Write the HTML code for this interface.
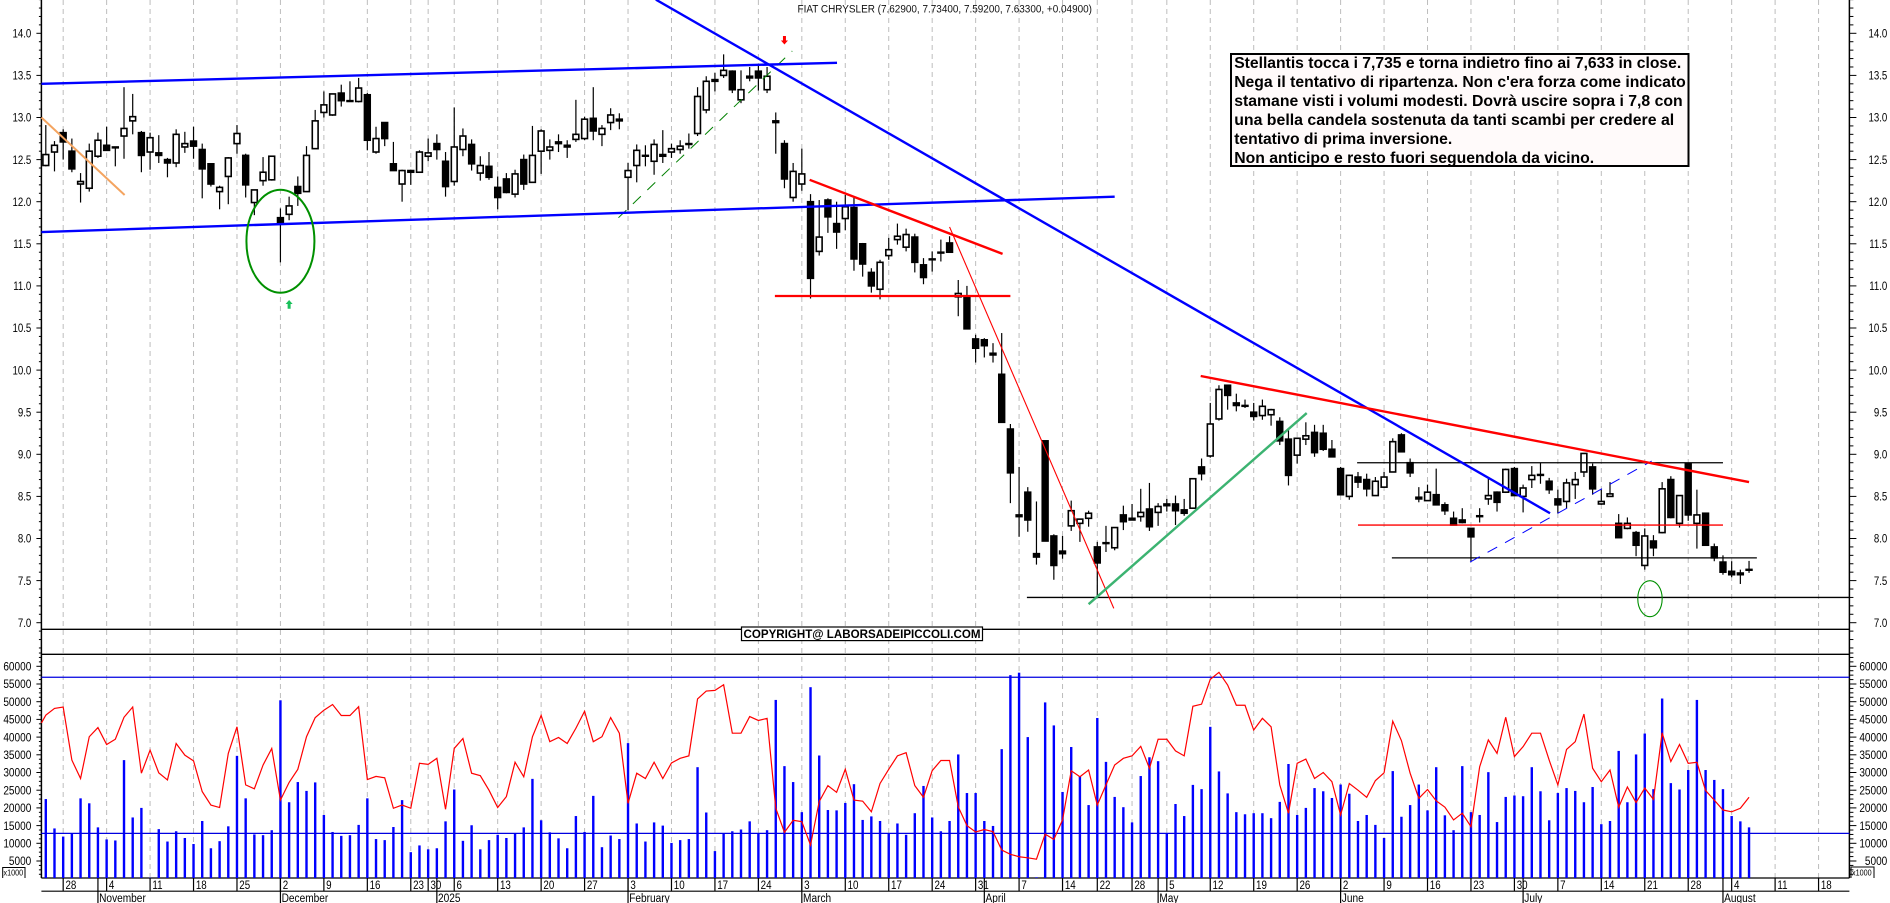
<!DOCTYPE html>
<html lang="it">
<head>
<meta charset="utf-8">
<title>Fiat Chrysler chart</title>
<style>
html,body{margin:0;padding:0;background:#fff;width:1890px;height:903px;overflow:hidden}
svg{display:block;font-family:"Liberation Sans",Arial,sans-serif}
</style>
</head>
<body>
<svg id="chart" xmlns="http://www.w3.org/2000/svg" width="1890" height="903" viewBox="0 0 1890 903"></svg>
<script>
const opens=[12.43,12.59,12.82,12.60,12.21,12.16,12.54,12.67,12.65,12.78,12.96,12.82,12.59,12.58,12.50,12.46,12.65,12.72,12.62,12.45,12.12,12.30,12.69,12.55,11.99,12.25,12.26,11.81,11.85,12.18,12.12,12.63,13.06,13.03,13.29,13.20,13.19,13.27,12.59,12.94,12.45,12.21,12.37,12.35,12.54,12.69,12.48,12.24,12.62,12.68,12.34,12.42,12.17,12.27,12.09,12.50,12.23,12.60,12.61,12.71,12.67,12.74,12.75,12.99,12.80,12.94,12.98,12.29,12.43,12.55,12.48,12.56,12.59,12.62,12.69,12.81,13.09,13.45,13.50,13.55,13.21,13.47,13.55,13.33,12.96,12.69,12.05,12.21,12.00,11.41,12.02,11.74,11.80,11.93,11.50,11.16,10.96,11.36,11.55,11.46,11.58,11.25,11.32,11.40,11.51,10.87,10.87,10.37,10.36,10.18,9.95,9.30,8.26,8.55,7.82,9.16,8.03,7.85,8.15,8.18,8.24,7.90,7.95,7.89,8.28,8.24,8.26,8.35,8.31,8.41,8.41,8.34,8.36,8.85,8.98,9.42,9.82,9.61,9.58,9.50,9.46,9.47,9.39,9.18,8.99,9.18,9.26,9.25,9.06,8.83,8.50,8.73,8.70,8.51,8.61,8.79,9.23,8.90,8.49,8.45,8.52,8.40,8.24,8.22,8.12,8.27,8.47,8.55,8.55,8.83,8.50,8.70,8.76,8.68,8.47,8.44,8.64,8.79,8.85,8.41,8.50,8.18,8.12,8.07,7.68,7.97,8.07,8.70,8.18,8.89,8.18,8.30,7.90,7.72,7.61,7.59,7.629];
const closes=[12.56,12.67,12.71,12.39,12.24,12.60,12.73,12.61,12.64,12.87,13.01,12.55,12.76,12.55,12.46,12.80,12.69,12.66,12.39,12.21,12.17,12.52,12.81,12.20,12.14,12.35,12.54,11.74,11.95,12.10,12.55,12.96,13.15,13.28,13.20,13.20,13.35,12.73,12.75,12.75,12.37,12.37,12.35,12.59,12.58,12.62,12.18,12.65,12.78,12.45,12.43,12.29,12.05,12.11,12.33,12.21,12.55,12.84,12.65,12.69,12.65,12.80,12.98,12.84,12.87,13.03,12.96,12.37,12.61,12.55,12.68,12.54,12.63,12.66,12.68,13.25,13.43,13.43,13.56,13.33,13.33,13.49,13.47,13.49,12.94,12.27,12.36,12.33,11.09,11.58,11.82,11.64,11.94,11.32,11.26,11.00,11.28,11.43,11.59,11.61,11.28,11.10,11.32,11.40,11.40,10.91,10.49,10.26,10.29,10.20,9.38,8.78,8.28,8.22,7.78,7.97,7.68,7.82,8.33,8.23,8.30,7.71,7.94,8.13,8.20,8.22,8.31,8.14,8.38,8.39,8.33,8.30,8.71,8.77,9.36,9.77,9.70,9.58,9.58,9.45,9.57,9.53,9.16,8.75,9.19,9.22,9.02,9.06,8.97,8.52,8.75,8.67,8.59,8.68,8.73,9.15,9.03,8.78,8.47,8.55,8.40,8.33,8.16,8.19,8.02,8.26,8.51,8.43,8.82,8.51,8.60,8.75,8.75,8.58,8.40,8.66,8.70,9.01,8.59,8.44,8.53,8.01,8.18,7.92,8.03,7.89,8.59,8.25,8.51,8.28,8.28,7.92,7.77,7.60,7.57,7.57,7.633];
const highs=[12.91,12.72,12.86,12.75,12.34,12.69,12.82,12.89,12.65,13.36,13.28,12.84,12.82,12.79,12.52,12.86,12.83,12.89,12.69,12.45,12.19,12.53,12.91,12.57,12.14,12.53,12.54,11.92,12.06,12.30,12.66,13.09,13.31,13.28,13.39,13.43,13.47,13.29,12.89,12.94,12.71,12.38,12.38,12.61,12.75,12.80,12.59,13.12,12.87,12.74,12.54,12.59,12.30,12.34,12.38,12.56,12.90,12.86,12.74,12.80,12.73,13.21,13.01,13.36,12.91,13.11,13.05,12.46,12.68,12.67,12.74,12.85,12.69,12.73,12.81,13.36,13.49,13.53,13.75,13.56,13.56,13.60,13.62,13.60,13.06,12.73,12.46,12.63,12.09,12.02,12.04,12.00,12.08,12.06,11.51,11.21,11.31,11.57,11.74,11.68,11.62,11.33,11.41,11.55,11.59,11.07,11.00,10.42,10.38,10.32,10.44,9.36,8.85,8.61,8.44,9.16,8.05,8.03,8.45,8.23,8.33,7.96,8.15,8.13,8.39,8.41,8.59,8.66,8.42,8.47,8.51,8.47,8.71,8.95,9.61,9.82,9.82,9.72,9.65,9.61,9.65,9.54,9.44,9.30,9.20,9.38,9.35,9.35,9.17,8.85,8.76,8.79,8.77,8.73,8.79,9.19,9.25,8.95,8.61,8.64,8.83,8.43,8.32,8.36,8.12,8.36,8.71,8.56,8.83,8.85,8.64,8.86,8.90,8.72,8.58,8.71,8.79,9.01,8.89,8.58,8.67,8.29,8.25,8.09,8.12,8.04,8.67,8.74,8.51,8.90,8.58,8.30,7.94,7.80,7.73,7.63,7.734];
const lows=[12.42,12.36,12.50,12.35,11.99,12.12,12.52,12.61,12.42,12.51,12.80,12.35,12.38,12.46,12.29,12.41,12.58,12.51,12.04,12.18,11.91,11.97,12.57,12.05,11.84,12.19,12.25,11.28,11.78,11.95,12.12,12.63,13.00,13.02,13.13,13.20,13.18,12.61,12.57,12.66,12.37,12.00,12.20,12.35,12.48,12.50,12.06,12.19,12.54,12.37,12.25,12.26,11.91,12.10,12.05,12.14,12.23,12.33,12.50,12.59,12.52,12.71,12.73,12.73,12.66,12.85,12.86,11.90,12.23,12.42,12.32,12.46,12.52,12.57,12.63,12.78,13.05,13.31,13.47,13.29,13.17,13.43,13.32,13.29,12.57,12.16,12.00,12.13,10.85,11.36,11.63,11.44,11.66,11.18,11.11,10.92,10.84,11.31,11.49,11.41,11.16,11.02,11.17,11.29,11.40,10.64,10.49,10.09,10.15,10.09,9.38,8.42,8.02,8.08,7.69,7.97,7.51,7.76,8.09,7.96,8.14,7.30,7.84,7.86,8.10,8.22,8.20,8.09,8.15,8.32,8.16,8.27,8.36,8.69,8.96,9.40,9.53,9.51,9.55,9.40,9.41,9.34,9.11,8.63,8.89,9.11,8.97,9.04,8.97,8.52,8.46,8.60,8.50,8.51,8.60,8.79,9.03,8.73,8.43,8.45,8.40,8.28,8.16,8.18,7.73,8.19,8.40,8.32,8.54,8.51,8.31,8.60,8.65,8.53,8.30,8.36,8.47,8.73,8.52,8.40,8.50,8.01,8.11,7.79,7.63,7.79,8.06,8.24,8.13,8.21,7.88,7.92,7.73,7.57,7.54,7.46,7.592];
const volumes=[22.5,14.2,11.9,12.7,22.7,21.3,14.5,11.1,10.8,33.5,17.3,20,0.3,14,10.5,13.4,11.5,9.8,16.3,8.6,10.6,14.8,34.7,22.7,12.5,12.3,13.7,50.4,21.6,27.3,24.8,27.2,18,13.2,12.1,12.3,15.2,22.7,11.2,10.9,14.6,22.2,7.5,9.4,8.3,8.6,16.2,25.2,10.7,15.1,8.3,10.9,12.4,11.5,12.7,14.5,28.2,16.5,13.1,11.4,8.6,17.7,13.2,23.4,8.9,12.2,11.2,38.3,15.6,10.5,15.9,15,10.1,10.9,11.2,31.5,18.7,7.8,12.7,13.4,13.9,16.2,12.7,13.7,50.5,31.8,27.3,18.8,54.1,34.8,19.4,19.3,21.4,26.7,16.6,17.6,16.3,12.7,15.6,12.4,18.5,26.2,17.3,13.4,16.3,35.1,24.2,24.2,16.3,14.9,36.6,57.5,58.2,40,0.4,49.8,43.3,24.5,37.2,29,20.8,45.4,33,23.1,20.2,15.9,29,34.3,33.2,12.7,21.1,17.7,26.5,25.3,42.9,30.3,24.1,18.8,18.2,18.5,18.5,17.1,21.7,32.4,18,20,25.6,24.7,22.8,26.6,24,16.3,18,15.2,11.5,30.4,17.5,20.8,26.6,19.3,31.5,17.9,13.7,31.8,18.8,18,30.1,16,23.1,23.5,23.3,31.5,24.7,16.5,24.2,25.6,24.8,21.6,25.9,15.4,16.3,36.1,21.6,35.1,41,25.3,50.9,27,25.2,30.7,50.5,30.7,27.9,25.3,17.7,16.2,14.5];
const momentum=[46.2,48.1,48.5,33.5,28.3,40.1,42.7,37.9,39.4,45.6,48.5,29.8,36.3,29.9,27.9,38.2,34.9,33.3,24.6,20.8,20.1,35.4,42.9,26.5,25.4,32.1,36.8,22.2,27.2,30.9,40.1,45.5,47.6,49.2,46.1,46.1,48.6,28,28.9,28.5,19.9,20.8,19.9,32.6,32.3,34,19.6,36.8,39.6,29.8,29.1,25,20.1,23.2,32.9,28.8,40.1,46.1,38.7,39.9,38.2,42.5,47.3,38.7,40.1,45.5,41.1,21.3,29.8,28.3,32.9,28.3,32.7,34,34.7,50.8,53,53.2,54.8,41.1,41.1,45.8,44.7,45.3,19.9,13.1,16.5,16.1,9.5,21.8,26.3,24.4,30.9,22.2,21.9,18.9,26.9,30.9,34.7,35.6,26.3,23,30.5,33.4,33.4,20.3,15,13.2,13.9,13.3,8.1,6.9,6.2,5.9,5.5,12.6,11.1,16.6,30.5,28.8,30.7,20.8,26.5,32.1,34,34.7,37.4,31.2,39.4,39.4,36.1,34.7,48.7,49.3,56.3,58.3,54.7,49,49,42,45.3,42.9,26.5,18.5,32.6,33.8,28.3,30,27.4,18,26.9,25,23,27.7,29.9,44.5,39,29.8,22.7,25.2,22,20.2,16.6,18.5,14.7,31.6,39.2,35.4,45.6,34.5,37.3,41.1,41.1,33.5,26.5,36.5,38.7,46.5,31.2,27.4,30.7,20.2,25.9,21.5,25.6,22.4,41.2,33.1,37.9,32.6,32.9,24.9,22.2,19.4,18.9,19.9,23];
const momentumLead=44;
const volumeLevels=[56.9,12.8];
const priceTickLabels=["14.0","13.5","13.0","12.5","12.0","11.5","11.0","10.5","10.0","9.5","9.0","8.5","8.0","7.5","7.0"];
const volumeTickLabels=["60000","55000","50000","45000","40000","35000","30000","25000","20000","15000","10000","5000"];
const weekBars=[2,7,12,17,22,27,32,37,42,44,47,52,57,62,67,72,77,82,87,92,97,102,107,112,117,121,125,129,134,139,144,149,154,159,164,169,174,179,184,189,194,199,204];
const weekLabels=["28","4","11","18","25","2","9","16","23","30","6","13","20","27","3","10","17","24","3","10","17","24","31","7","14","22","28","5","12","19","26","2","9","16","23","30","7","14","21","28","4","11","18"];
const monthBars=[6,27,45,67,87,108,128,149,170,193];
const monthLabels=["November","December","2025","February","March","April","May","June","July","August"];
const blueChannelTop=[-0.5,13.40,91.05,13.65];
const blueChannelBottom=[-0.5,11.64,123,12.06];
const blueDowntrend=[70.2,14.40,173.1,8.30];
const redResistanceA=[87.9,12.26,110.1,11.38];
const redSupport=[83.9,10.88,111,10.88];
const redThinDecline=[104,11.70,122.9,7.17];
const greenUptrend=[120,7.22,145.1,9.49];
const redResistanceB=[132.9,9.93,196,8.67];
const blackLevelLow=[112.9,7.30,207.5,7.30];
const blackLevelHigh=[150.9,8.90,193,8.90];
const redLevelMid=[151,8.16,193,8.16];
const blackLevelMid=[154.9,7.77,196.9,7.77];
const blueDashedTrend=[163.9,7.72,184.8,8.92];
const greenDashedTrend=[65.9,11.81,85.9,13.79];
const orangeDecline=[-0.5,13.00,9.07,12.08];
const noteLines=["Stellantis tocca i 7,735 e torna indietro fino ai 7,633 in close.","Nega il tentativo di ripartenza. Non c'era forza come indicato","stamane visti i volumi modesti. Dovrà uscire sopra i 7,8 con","una bella candela sostenuta da tanti scambi per credere al","tentativo di prima inversione.","Non anticipo e resto fuori seguendola da vicino."];

const NS="http://www.w3.org/2000/svg";
const svg=document.getElementById("chart");
const AXL=41.4,AXR=1849.4,BOTTOM=878;
function xScale(i){return 45.8+8.69*i;}
function priceY(p){return 33.3+(14-p)*84.2;}
function volY(v){return 878.7-3.54*v;}
function mk(tag,attrs,parent){
  const el=document.createElementNS(NS,tag);
  for(const k in attrs)el.setAttribute(k,attrs[k]);
  (parent||svg).appendChild(el);
  return el;
}
function seg(a,b,c,d,stroke,w,extra,parent){
  return mk("line",Object.assign({x1:a,y1:b,x2:c,y2:d,stroke:stroke,"stroke-width":w},extra||{}),parent);
}
function label(x,y,t,size,anchor,parent,extra){
  const el=mk("text",Object.assign({x:x,y:y,"font-size":size,"text-anchor":anchor||"start",fill:"#000"},extra||{}),parent);
  el.textContent=t;
  return el;
}
function squeeze(el,k){
  el.setAttribute("textLength",el.getComputedTextLength()*k);
  el.setAttribute("lengthAdjust","spacingAndGlyphs");
}
function trend(arr,stroke,w,extra){
  return seg(xScale(arr[0]),priceY(arr[1]),xScale(arr[2]),priceY(arr[3]),stroke,w,extra);
}

/* gridlines */
weekBars.forEach(function(b){
  const el=seg(xScale(b),0,xScale(b),BOTTOM,"#bdbdbd",1,{"stroke-dasharray":"5 4"});
  
  
});

/* frame */
const leftAxis=seg(AXL,0,AXL,BOTTOM,"#000",1.5);


const rightAxis=seg(AXR,0,AXR,BOTTOM,"#000",1.5);


const panelBottom=seg(AXL,629.3,AXR,629.3,"#000",1.3);


const panelTop=seg(AXL,654.3,AXR,654.3,"#000",1.3);


const axisBottom=seg(AXL,BOTTOM,AXR,BOTTOM,"#000",1.3);


const stripLine=seg(AXL,891.2,AXR,891.2,"#000",1.2);



/* price ticks */
for(let n=0;n<78;n++){
  const p=14.4-n*0.1;
  const tenths=Math.round(p*10);
  const major=tenths%5===0;
  const y=priceY(p);
  if(y>654.5)break;
  const a=seg(AXL-(major?5:2.5),y,AXL,y,"#000",1);
  
  
  const b=seg(AXR,y,AXR+(major?7:4),y,"#000",1);
  
  
}
priceTickLabels.forEach(function(t){
  const y=priceY(parseFloat(t))+4.2;
  const a=label(31.3,y,t,11.5,"end");
  squeeze(a,0.84);
  
  
  const b=label(1887.3,y,t,11.5,"end");
  squeeze(b,0.84);
  
  
});

/* volume ticks */
for(let v=1.25;v<=63.8;v+=1.25){
  const major=Math.abs(v/5-Math.round(v/5))<0.001;
  const y=volY(v);
  const a=seg(AXL-(major?5:2.5),y,AXL,y,"#000",1);
  
  
  const b=seg(AXR,y,AXR+(major?7:4),y,"#000",1);
  
  
}
volumeTickLabels.forEach(function(t){
  const y=volY(parseFloat(t)/1000)+4.2;
  const a=label(31.3,y,t,11.5,"end");
  squeeze(a,0.875);
  
  
  const b=label(1887.3,y,t,11.5,"end");
  squeeze(b,0.875);
  
  
});

/* date strip */
weekBars.forEach(function(b,i){
  const x=xScale(b);
  const t=seg(x,BOTTOM,x,891,"#000",1.2);
  
  
  const l=label(x+2.3,889,weekLabels[i],11.5);
  squeeze(l,0.85);
  
  
});
monthBars.forEach(function(b,i){
  const x=xScale(b);
  const t=seg(x,BOTTOM,x,903,"#000",1.2);
  
  
  const l=label(x+1.2,902.2,monthLabels[i],11.5);
  squeeze(l,0.88);
  
  
});

/* unit boxes */
const unitL=mk("path",{d:"M2.7 878V867.5H25V878",fill:"none",stroke:"#000","stroke-width":1});


const unitLT=label(3.5,875.5,"x1000",8);
squeeze(unitLT,0.9);


const unitR=mk("path",{d:"M1851 878V867H1874V878",fill:"none",stroke:"#000","stroke-width":1});


const unitRT=label(1852,875.5,"x1000",8);
squeeze(unitRT,0.9);



/* volume bars */
volumes.forEach(function(v,i){
  const y=volY(v);
  const bar=mk("rect",{x:xScale(i)-1.2,y:y,width:2.4,height:Math.max(0,BOTTOM-y),fill:"#0000ff"});
  
  
});
volumeLevels.forEach(function(v){
  const el=seg(AXL,volY(v),AXR,volY(v),"#0000e0",1.2);
  
  
});
const momentumPts=[xScale(-0.5)+","+volY(momentumLead)].concat(momentum.map(function(v,i){return xScale(i)+","+volY(v);}));
const momLine=mk("polyline",{points:momentumPts.join(" "),fill:"none",stroke:"#ff0000","stroke-width":1.2});



/* candles */
opens.forEach(function(o,i){
  const c=closes[i],x=xScale(i),up=c>=o&&Math.abs(c-o)>0.02;
  const g=mk("g",{});
  
  
  seg(x,priceY(highs[i]),x,priceY(lows[i]),"#000",1.2,{},g);
  const top=priceY(Math.max(o,c)),bot=priceY(Math.min(o,c));
  mk("rect",{x:x-2.9,y:top,width:5.8,height:Math.max(0.8,bot-top),fill:up?"#fff":"#000",stroke:"#000","stroke-width":1.6},g);
});

/* drawn trendlines */
function addTrend(arr,stroke,w,extra){return trend(arr,stroke,w,extra);}
let t;
t=addTrend(blackLevelLow,"#000",1.3);


t=addTrend(blackLevelHigh,"#000",1.3);


t=addTrend(blackLevelMid,"#000",1.3);


t=addTrend(redLevelMid,"#ff0000",1.4);


t=addTrend(orangeDecline,"#f4a460",2);


t=addTrend(greenDashedTrend,"#008000",1,{"stroke-dasharray":"11 9"});


t=addTrend(blueDashedTrend,"#0000ff",1,{"stroke-dasharray":"11 9"});


t=addTrend(blueChannelTop,"#0000ff",2.4);


t=addTrend(blueChannelBottom,"#0000ff",2.4);


t=addTrend(blueDowntrend,"#0000ff",2.4);


t=addTrend(redResistanceA,"#ff0000",2.4);


t=addTrend(redSupport,"#ff0000",2.2);


t=addTrend(redThinDecline,"#ff0000",1.1);


t=addTrend(greenUptrend,"#3cb371",2.4);


t=addTrend(redResistanceB,"#ff0000",2.4);



/* circles and arrows */
const e1=mk("ellipse",{cx:xScale(27),cy:priceY(11.53),rx:34,ry:51.5,fill:"none",stroke:"#009000","stroke-width":2});


const e2=mk("ellipse",{cx:xScale(184.6),cy:priceY(7.285),rx:12.2,ry:18,fill:"none",stroke:"#009000","stroke-width":1.1});


const ax=xScale(28),ay=300;
const upArrow=mk("path",{d:"M"+ax+" "+ay+"l3.5 4h-2v4.7h-3v-4.7h-2z",fill:"#19c05a"});


const bx=xScale(85),by=44.5;
const downArrow=mk("path",{d:"M"+bx+" "+by+"l3.5 -4h-2v-4.5h-3v4.5h-2z",fill:"#ff0000"});



/* title */
const title=label(797.5,12.3,"FIAT CHRYSLER (7.62900, 7.73400, 7.59200, 7.63300, +0.04900)",11,"start",svg,{textLength:294.5,lengthAdjust:"spacingAndGlyphs",fill:"#111"});



/* note box */
const noteBox=mk("rect",{x:1231,y:54,width:457.5,height:112,fill:"#fffafa",stroke:"#000","stroke-width":2});


const noteWidths=[447,451.5,448.5,440,218,360];
noteLines.forEach(function(s,i){
  const el=label(1234.2,68+i*19,s,16,"start",svg,{"font-weight":"bold",textLength:noteWidths[i],lengthAdjust:"spacingAndGlyphs"});
  
  
});

/* copyright */
const cpBox=mk("rect",{x:741.5,y:627,width:241,height:13.6,fill:"#fff",stroke:"#000","stroke-width":1.2});


const cpText=label(743.5,637.8,"COPYRIGHT@ LABORSADEIPICCOLI.COM",11.5,"start",svg,{"font-weight":"bold",textLength:237,lengthAdjust:"spacingAndGlyphs"});


</script>
</body>
</html>
